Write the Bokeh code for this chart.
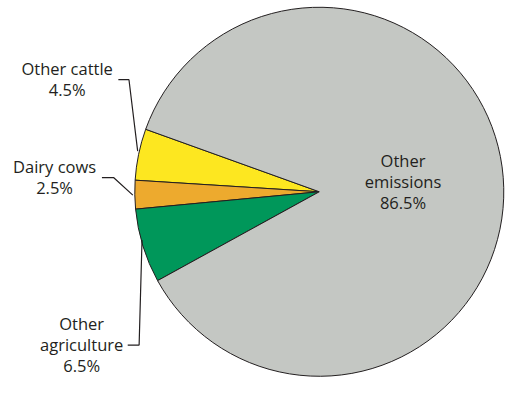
import numpy as np
from bokeh.plotting import figure
from bokeh.models import Range1d, ColumnDataSource
from bokeh.core.properties import value
from bokeh.embed import file_html
from bokeh.resources import INLINE

# ---- data ----
categories = ["Other cattle", "Dairy cows", "Other agriculture", "Other emissions"]
shares = [4.5, 2.5, 6.5, 86.5]
label_texts = ["Other cattle\n4.5%", "Dairy cows\n2.5%",
               "Other\nagriculture\n6.5%", "Other\nemissions\n86.5%"]
colors = ["#FDE720", "#EDAA2E", "#00975A", "#C4C7C3"]

# ---- layout (reference pixels, scaled uniformly to fit) ----
W, H = 505, 377
S = 0.966
def X(sx):
    return S * sx
def Y(sy):
    return H - S * sy

cx, cy, R = 330, 198, 191
start_deg = 160.2

p = figure(width=W, height=H, x_range=Range1d(0, W), y_range=Range1d(0, H),
           output_backend="svg", toolbar_location=None, min_border=0)
p.axis.visible = False
p.grid.visible = False
p.outline_line_color = None
p.background_fill_color = "white"
p.border_fill_color = "white"

frac = np.array(shares) / np.sum(shares)
ends = np.radians(start_deg) + np.cumsum(frac) * 2 * np.pi
starts = ends - frac * 2 * np.pi
src = ColumnDataSource(dict(start=starts, end=ends, color=colors, cat=categories))
p.wedge(x=X(cx), y=Y(cy), radius=S * R, start_angle="start", end_angle="end",
        fill_color="color", line_color="#231F20", line_width=1, source=src)

# leader lines
leaders = [
    [(122, 82), (133, 82), (142, 156)],
    [(105, 183.3), (117, 183.3), (137, 201.5)],
    [(131.7, 356.7), (143.5, 356.7), (146.5, 248)],
]
p.multi_line(xs=[[X(a) for a, b in l] for l in leaders],
             ys=[[Y(b) for a, b in l] for l in leaders],
             line_color="#231F20", line_width=1.2)

# labels
label_pos = [(69, 81.3), (56, 182.4), (84, 355.9), (416.7, 187.7)]
p.text(x=[X(a) for a, b in label_pos], y=[Y(b) for a, b in label_pos], text=label_texts,
       text_align="center", text_baseline="middle", text_font=value("Open Sans"),
       text_font_size="16.5px", text_color="#231F20", text_line_height=0.92)

open("out.html", "w").write(file_html(p, INLINE))
